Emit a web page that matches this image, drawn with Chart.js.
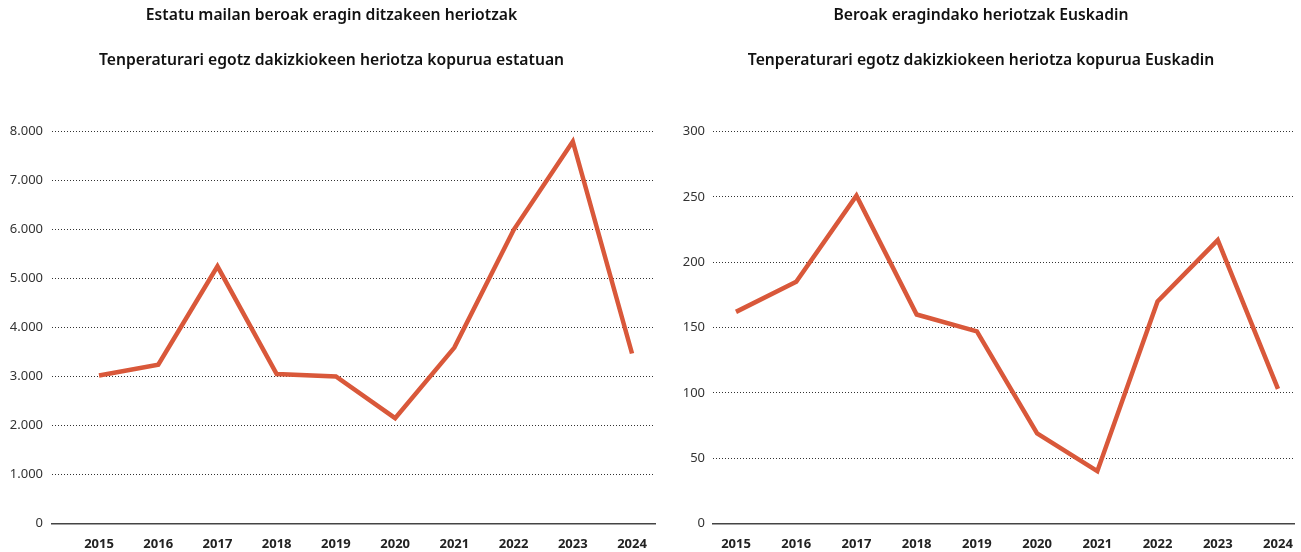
<!DOCTYPE html>
<html>
<head>
<meta charset="utf-8">
<script src="https://cdn.jsdelivr.net/npm/chart.js@4/dist/chart.umd.min.js"></script>
<style>
  html, body { margin: 0; padding: 0; background: #fff; overflow: hidden; }
  #wrap { position: relative; width: 1301px; height: 552px; }
  canvas { position: absolute; top: 0; display: block; }
  #stateChart { left: 0; }
  #euskadiChart { left: 661px; }
</style>
</head>
<body>
<div id="wrap">
  <canvas id="stateChart" width="668" height="552"></canvas>
  <canvas id="euskadiChart" width="640" height="552"></canvas>
</div>
<script>
// data
const years = [2015, 2016, 2017, 2018, 2019, 2020, 2021, 2022, 2023, 2024];
const stateDeaths = [3020, 3240, 5250, 3050, 3000, 2150, 3590, 5990, 7800, 3470];
const euskadiDeaths = [162, 185, 251, 160, 147, 69, 40, 170, 217, 103];
const stateTicks = [0, 1000, 2000, 3000, 4000, 5000, 6000, 7000, 8000];
const euskadiTicks = [0, 50, 100, 150, 200, 250, 300];

const lineColor = '#d9583a';
const fontFam = "'Noto Sans', sans-serif";

function fmt(v) {
  return v.toLocaleString('de-DE');
}

function makeConfig(opts) {
  return {
    type: 'line',
    data: {
      datasets: [{
        data: years.map((y, i) => ({ x: y, y: opts.values[i] })),
        borderColor: lineColor,
        borderWidth: 4.5,
        pointRadius: 0,
        tension: 0,
        fill: false,
      }]
    },
    options: {
      responsive: false,
      animation: false,
      layout: { padding: { left: opts.padL, right: opts.padR, top: 0, bottom: -13 } },
      plugins: {
        legend: { display: false },
        tooltip: { enabled: false },
        title: {
          display: true,
          text: opts.title,
          color: '#111',
          font: { family: fontFam, size: 15.7, weight: '600' },
          padding: { top: 6, bottom: 26 },
        },
        subtitle: {
          display: true,
          text: opts.subtitle,
          color: '#111',
          font: { family: fontFam, size: 15.7, weight: '600' },
          padding: { top: 0, bottom: 62 },
        },
      },
      scales: {
        x: {
          type: 'linear',
          min: opts.xMin,
          max: opts.xMax,
          afterBuildTicks: (scale) => { scale.ticks = years.map(v => ({ value: v })); },
          afterFit: (scale) => { scale.paddingLeft = 0; scale.paddingRight = 0; },
          grid: { display: false, drawTicks: false },
          border: { display: true, color: '#444', width: 1.5 },
          ticks: {
            padding: 13,
            color: '#222',
            autoSkip: false,
            maxRotation: 0,
            font: { family: fontFam, size: 13, weight: 'bold' },
            callback: (v) => String(v),
          },
        },
        y: {
          min: 0,
          max: opts.yTicks[opts.yTicks.length - 1],
          afterBuildTicks: (scale) => { scale.ticks = opts.yTicks.map(v => ({ value: v })); },
          afterFit: (scale) => { scale.width = opts.yWidth; },
          grid: { color: '#333', lineWidth: 1, drawTicks: false },
          border: { display: false, dash: [1, 2] },
          ticks: {
            padding: opts.tickPad,
            color: '#333',
            font: { family: fontFam, size: 13 },
            callback: (v) => fmt(v),
          },
        },
      },
    },
  };
}

new Chart(document.getElementById('stateChart'), makeConfig({
  values: stateDeaths,
  yTicks: stateTicks,
  title: 'Estatu mailan beroak eragin ditzakeen heriotzak',
  subtitle: 'Tenperaturari egotz dakizkiokeen heriotza kopurua estatuan',
  padL: 8, padR: 13, yWidth: 44, tickPad: 9,
  xMin: 2014.206, xMax: 2024.388,
}));

new Chart(document.getElementById('euskadiChart'), makeConfig({
  values: euskadiDeaths,
  yTicks: euskadiTicks,
  title: 'Beroak eragindako heriotzak Euskadin',
  subtitle: 'Tenperaturari egotz dakizkiokeen heriotza kopurua Euskadin',
  padL: 7, padR: 7, yWidth: 45, tickPad: 8,
  xMin: 2014.618, xMax: 2024.266,
}));
</script>
</body>
</html>
